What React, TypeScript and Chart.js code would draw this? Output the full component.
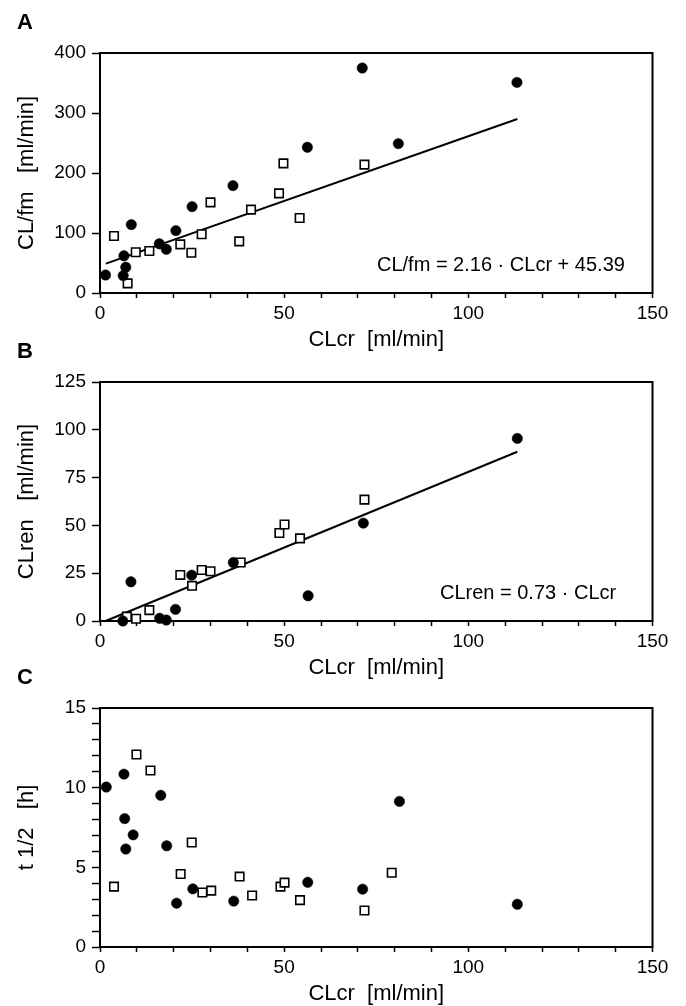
import React, { useEffect, useRef } from 'react';
import { Chart, registerables } from 'chart.js';

Chart.register(...registerables);

// ---------- data ----------
const xTickLabels = [0, 50, 100, 150];

// Panel A: CL/fm vs CLcr
const aCircles: number[][] = [
  [1.5, 30], [6.3, 29], [7, 43], [6.5, 62], [8.5, 114], [16.1, 82], [18, 73],
  [20.6, 104], [25, 144], [36.1, 179], [56.3, 243], [71.2, 375], [81, 249], [113.2, 351],
];
const aSquares: number[][] = [
  [3.8, 95], [7.5, 16], [9.7, 68], [13.4, 70], [21.8, 81], [24.8, 67], [27.6, 98],
  [30, 151], [37.8, 86], [41, 139], [48.6, 166], [49.8, 216], [54.2, 125], [71.8, 214],
];
const aLine: number[][] = [[1.6, 49], [113.3, 290]];
const aYTicks = [0, 100, 200, 300, 400];

// Panel B: CLren vs CLcr
const bCircles: number[][] = [
  [6.2, 0], [8.4, 20.5], [16.2, 1.4], [18, 0.5], [20.5, 6.1], [24.9, 24], [36.2, 30.6],
  [56.5, 13.2], [71.5, 51.2], [113.3, 95.5],
];
const bSquares: number[][] = [
  [7.3, 2.3], [9.8, 1.2], [13.4, 5.7], [21.8, 24.1], [25, 18.4], [27.6, 26.7], [30, 26],
  [38.2, 30.6], [48.7, 46], [50.1, 50.5], [54.3, 43.2], [71.8, 63.5],
];
const bLine: number[][] = [[1.5, 0], [113.3, 88.5]];
const bYTicks = [0, 25, 50, 75, 100, 125];

// Panel C: t1/2 vs CLcr
const cCircles: number[][] = [
  [1.7, 10.04], [6.5, 10.85], [6.7, 8.06], [7, 6.15], [9, 7.04], [16.5, 9.52], [18.1, 6.35],
  [20.8, 2.75], [25.2, 3.65], [36.3, 2.88], [56.4, 4.06], [71.3, 3.63], [81.3, 9.14], [113.3, 2.68],
];
const cSquares: number[][] = [
  [3.8, 3.79], [9.9, 12.08], [13.7, 11.08], [21.9, 4.58], [24.9, 6.56], [27.8, 3.42],
  [30.2, 3.54], [37.9, 4.42], [41.3, 3.23], [49, 3.79], [50.1, 4.04], [54.3, 2.94],
  [71.8, 2.29], [79.2, 4.66],
];
const cYTicks = [0, 5, 10, 15];

// ---------- styling / layout ----------
const FONT = '"Liberation Sans", Arial, Helvetica, sans-serif';
const TOP_PAD = 53;
const XAXIS_H = 72;
const PLOT_RIGHT = 652.5;
const W = 686;

type Panel = {
  letter: string;
  plotTop: number;
  plotBottom: number;
  circles: number[][];
  squares: number[][];
  line: number[][] | null;
  yMax: number;
  yStep: number;
  yLabels: number[];
  yTitle: string;
  eq: string | null;
  eqX: number;
  eqY: number;
};

const panels: Panel[] = [
  {
    letter: 'A', plotTop: 53, plotBottom: 293, circles: aCircles, squares: aSquares, line: aLine,
    yMax: 400, yStep: 100, yLabels: aYTicks, yTitle: 'CL/fm   [ml/min]',
    eq: 'CL/fm = 2.16 \u00B7 CLcr + 45.39', eqX: 75.2, eqY: 46.5,
  },
  {
    letter: 'B', plotTop: 382, plotBottom: 621, circles: bCircles, squares: bSquares, line: bLine,
    yMax: 125, yStep: 25, yLabels: bYTicks, yTitle: 'CLren   [ml/min]',
    eq: 'CLren = 0.73 \u00B7 CLcr', eqX: 92.3, eqY: 14.6,
  },
  {
    letter: 'C', plotTop: 708, plotBottom: 947, circles: cCircles, squares: cSquares, line: null,
    yMax: 15, yStep: 1, yLabels: cYTicks, yTitle: 't 1/2   [h]',
    eq: null, eqX: 0, eqY: 0,
  },
];

const toPts = (arr: number[][]) => arr.map(([x, y]) => ({ x, y }));

const framePlugin = {
  id: 'frame',
  beforeDatasetsDraw(chart: any, _args: any, opts: any) {
    const { ctx, chartArea } = chart;
    const { left, top, right, bottom } = chartArea;
    ctx.save();
    ctx.strokeStyle = '#000';
    ctx.lineWidth = 2;
    ctx.strokeRect(left, top, right - left, bottom - top);
    ctx.font = `bold 22px ${FONT}`;
    ctx.fillStyle = '#000';
    ctx.textBaseline = 'middle';
    ctx.textAlign = 'left';
    ctx.fillText(opts.letter, 17, top - 30);
    ctx.restore();
  },
  afterDraw(chart: any, _args: any, opts: any) {
    if (!opts.eq) return;
    const { ctx } = chart;
    const x = chart.scales.x.getPixelForValue(opts.eqX);
    const y = chart.scales.y.getPixelForValue(opts.eqY);
    ctx.save();
    ctx.font = `20px ${FONT}`;
    ctx.fillStyle = '#000';
    ctx.textBaseline = 'middle';
    ctx.textAlign = 'left';
    ctx.fillText(opts.eq, x, y);
    ctx.restore();
  },
};

function PanelChart({ p }: { p: Panel }) {
  const ref = useRef<HTMLCanvasElement>(null);
  const height = p.plotBottom - p.plotTop + TOP_PAD + XAXIS_H;
  useEffect(() => {
    if (!ref.current) return;
    const datasets: any[] = [
      {
        data: toPts(p.circles),
        pointStyle: 'circle',
        pointRadius: 5.2,
        pointBackgroundColor: '#000',
        pointBorderColor: '#000',
        pointBorderWidth: 0.5,
        showLine: false,
        clip: false,
      },
      {
        data: toPts(p.squares),
        pointStyle: 'rect',
        pointRadius: 6,
        pointBackgroundColor: '#fff',
        pointBorderColor: '#000',
        pointBorderWidth: 1.6,
        showLine: false,
        clip: false,
      },
    ];
    if (p.line) {
      datasets.push({
        data: toPts(p.line),
        showLine: true,
        pointRadius: 0,
        borderColor: '#000',
        borderWidth: 2,
        fill: false,
        clip: false,
      });
    }
    const chart = new Chart(ref.current, {
      type: 'scatter',
      data: { datasets },
      plugins: [framePlugin as any],
      options: {
        responsive: false,
        animation: false,
        devicePixelRatio: 1,
        events: [],
        layout: { padding: { top: TOP_PAD, right: W - PLOT_RIGHT, left: 0, bottom: 0 } },
        plugins: {
          legend: { display: false },
          tooltip: { enabled: false },
          frame: { letter: p.letter, eq: p.eq, eqX: p.eqX, eqY: p.eqY },
        } as any,
        scales: {
          x: {
            type: 'linear',
            min: 0,
            max: 150,
            afterFit: (s: any) => { s.height = XAXIS_H; },
            ticks: {
              stepSize: 10,
              autoSkip: false,
              maxRotation: 0,
              color: '#000',
              padding: 4,
              font: { family: FONT, size: 19 },
              callback: (v: any) => (xTickLabels.includes(Number(v)) ? String(v) : ''),
            },
            grid: {
              display: true,
              drawOnChartArea: false,
              drawTicks: true,
              tickLength: 5,
              tickColor: '#000',
              tickWidth: 1.5,
            },
            border: { display: false },
            title: {
              display: true,
              text: 'CLcr  [ml/min]',
              color: '#000',
              font: { family: FONT, size: 22 },
              padding: { top: 0, bottom: 12 },
            },
          },
          y: {
            type: 'linear',
            min: 0,
            max: p.yMax,
            afterFit: (s: any) => { s.width = 100; },
            ticks: {
              stepSize: p.yStep,
              autoSkip: false,
              color: '#000',
              padding: 6,
              font: { family: FONT, size: 19 },
              callback: (v: any) => (p.yLabels.includes(Number(v)) ? String(v) : ''),
            },
            grid: {
              display: true,
              drawOnChartArea: false,
              drawTicks: true,
              tickLength: 8,
              tickColor: '#000',
              tickWidth: 1.5,
            },
            border: { display: false },
            title: {
              display: true,
              text: p.yTitle,
              color: '#000',
              font: { family: FONT, size: 22 },
              padding: { top: 14, bottom: 0 },
            },
          },
        },
      } as any,
    });
    return () => chart.destroy();
  }, [p]);
  return (
    <canvas
      ref={ref}
      width={W}
      height={height}
      style={{ position: 'absolute', left: 0, top: p.plotTop - TOP_PAD, width: W, height }}
    />
  );
}

export default function App() {
  return (
    <div
      style={{
        position: 'absolute',
        left: 0,
        top: 0,
        width: W,
        height: 1006,
        overflow: 'hidden',
        background: '#fff',
      }}
    >
      {panels.map((p) => (
        <PanelChart key={p.letter} p={p} />
      ))}
    </div>
  );
}
